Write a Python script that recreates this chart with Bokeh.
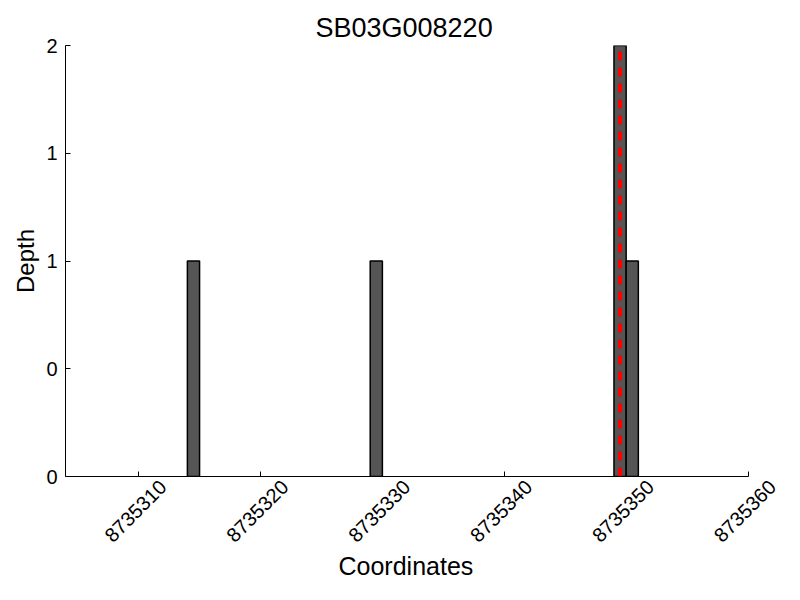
import math
from bokeh.plotting import figure
from bokeh.models import (FixedTicker, Range1d, ColumnDataSource, LinearAxis,
                          CustomLabelingPolicy, Title)
from bokeh.embed import file_html
from bokeh.resources import INLINE

# ---- data ----
title_text = "SB03G008220"
x_label_text = "Coordinates"
y_label_text = "Depth"
positions = [8735314, 8735329, 8735349, 8735350]
depths = [1, 1, 2, 1]
bin_width = 1
marker_pos = [8735349.5]
x_ticks = [8735310, 8735320, 8735330, 8735340, 8735350, 8735360]
x_tick_labels = ["8735310", "8735320", "8735330", "8735340", "8735350", "8735360"]
y_ticks = [0, 0.5, 1, 1.5, 2]
y_tick_labels = ["0", "0", "1", "1", "2"]
x_min, x_max = 8735304, 8735360
y_min, y_max = 0, 2

FONT = "Liberation Sans"
LABEL_SHIFT = 2.0   # shift (in x units) so rotated labels sit centred under ticks
PAD = 2.5           # empty room right of the axis end, for the last label

p = figure(width=784, height=581, output_backend="svg", toolbar_location=None,
           x_range=Range1d(x_min, x_max + PAD), y_range=Range1d(y_min, y_max),
           min_border_left=65, min_border_right=6, min_border_top=45,
           min_border_bottom=100)
p.extra_x_ranges = {"lab": Range1d(x_min - LABEL_SHIFT, x_max + PAD - LABEL_SHIFT)}

p.title.text = title_text
p.title.align = "left"
p.title.offset = 250
p.title.text_font = FONT
p.title.text_font_size = "27px"
p.title.text_font_style = "normal"
p.title.text_color = "black"
p.title.standoff = 6

p.outline_line_color = None
p.xgrid.visible = False
p.ygrid.visible = False

src = ColumnDataSource(dict(left=positions,
                            right=[x + bin_width for x in positions],
                            top=depths,
                            bottom=[0] * len(depths)))
p.quad(left="left", right="right", top="top", bottom="bottom", source=src,
       fill_color="#555555", line_color="black", line_width=1.5)

for m in marker_pos:
    p.line([m, m], [y_min, y_max], line_color="#ff0000", line_width=4, line_dash="9 7")

# main x axis: line + inward ticks, labels suppressed
xa = p.xaxis[0]
xa.ticker = FixedTicker(ticks=x_ticks)
xa.bounds = (x_min, x_max)
xa.major_label_policy = CustomLabelingPolicy(
    code="for (const i of indices) { indices.unset(i) } return indices")
xa.major_label_text_font_size = "0px"
xa.axis_line_color = "black"
xa.major_tick_in = 5
xa.major_tick_out = 0
xa.major_tick_line_color = "black"
xa.minor_tick_line_color = None
xa.major_label_standoff = 0
xa.axis_label_standoff = 0

# label axis: only rotated tick labels
la = LinearAxis(x_range_name="lab", ticker=FixedTicker(ticks=x_ticks))
la.major_label_overrides = {t: l for t, l in zip(x_ticks, x_tick_labels)}
la.major_label_orientation = math.pi / 4
la.axis_line_color = None
la.major_tick_line_color = None
la.minor_tick_line_color = None
la.major_label_text_font = FONT
la.major_label_text_font_size = "20px"
la.major_label_text_color = "black"
la.major_label_standoff = 1
la.axis_label_standoff = 0
p.add_layout(la, "below")

# x axis title, placed under the labels
xt = Title(text=x_label_text, align="left", offset=273, vertical_align="top",
           text_font=FONT, text_font_size="25px", text_font_style="normal",
           text_color="black", standoff=0)
p.add_layout(xt, "below")

ya = p.yaxis[0]
ya.ticker = FixedTicker(ticks=y_ticks)
ya.major_label_overrides = {t: l for t, l in zip(y_ticks, y_tick_labels)}
ya.axis_label = y_label_text
ya.axis_line_color = "black"
ya.major_tick_in = 5
ya.major_tick_out = 0
ya.major_tick_line_color = "black"
ya.minor_tick_line_color = None
ya.major_label_text_font = FONT
ya.major_label_text_font_size = "20px"
ya.major_label_text_color = "black"
ya.major_label_standoff = 8
ya.axis_label_text_font = FONT
ya.axis_label_text_font_size = "24px"
ya.axis_label_text_font_style = "normal"
ya.axis_label_text_color = "black"
ya.axis_label_standoff = 4

open("out.html", "w").write(file_html(p, INLINE))
